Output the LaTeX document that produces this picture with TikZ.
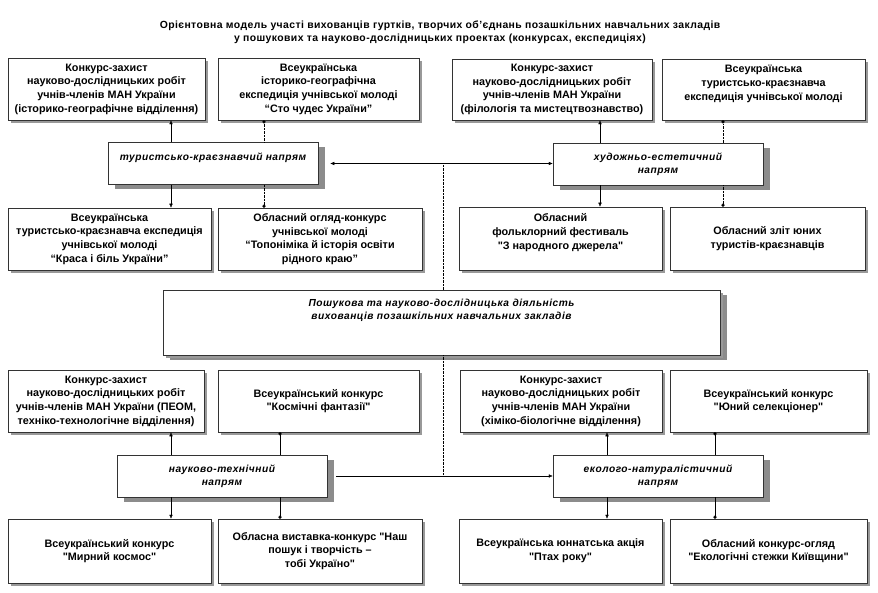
\documentclass[tikz,border=0pt]{standalone}
\usepackage{fontspec}
\setmainfont{Liberation Sans}[Ligatures=TeXOff]
\usetikzlibrary{arrows.meta,shadows}

\begin{document}
\begin{tikzpicture}[
    x=1pt, y=-1pt,
    >={Latex[length=4pt,width=3.6pt]},
    font=\fontsize{10.8}{13.7}\selectfont\bfseries,
    box/.style={draw=black!80, line width=0.5pt, fill=white, align=center, inner sep=1pt,
                minimum height=62pt,
                drop shadow={opacity=1, fill=black!40, shadow xshift=3pt, shadow yshift=-3pt}},
    dirbox/.style={draw=black!80, line width=0.5pt, fill=white, align=center, inner sep=1pt,
                minimum width=210pt, minimum height=42pt,
                font=\fontsize{10.2}{13.2}\selectfont\bfseries\itshape\addfontfeatures{LetterSpace=5},
                drop shadow={opacity=1, fill=black!45, shadow xshift=7pt, shadow yshift=-5pt}},
    mainbox/.style={dirbox, minimum width=557pt, minimum height=65pt,
                drop shadow={opacity=1, fill=black!40, shadow xshift=3pt, shadow yshift=-3pt}},
    dotlink/.style={-{Circle[length=3.2pt]}},
  ]
    \useasboundingbox (0,0) rectangle (878,593);

    % title
    \node[font=\fontsize{10.4}{13}\selectfont\bfseries\addfontfeatures{LetterSpace=4}, align=center]
      (title) at (440,32)
      {Орієнтовна модель участі вихованців гуртків, творчих об’єднань позашкільних навчальних закладів\\
       у пошукових та науково-дослідницьких проектах (конкурсах, експедиціях)};

    % upper half
    \node[box, minimum width=197pt] (kz1) at (106.5,89)
      {Конкурс-захист\\науково-дослідницьких робіт\\учнів-членів МАН України\\(історико-географічне відділення)};
    \node[box, minimum width=201pt] (exp1) at (318.5,89)
      {Всеукраїнська\\історико-географічна\\експедиція учнівської молоді\\“Сто чудес України”};
    \node[box, minimum width=200pt, minimum height=61pt] (kz2) at (552,89.5)
      {Конкурс-захист\\науково-дослідницьких робіт\\учнів-членів МАН України\\(філологія та мистецтвознавство)};
    \node[box, minimum width=203pt, minimum height=61pt] (exp2) at (763.5,89.5)
      {Всеукраїнська\\туристсько-краєзнавча\\експедиція учнівської молоді\\\mbox{}};

    \node[dirbox] (tur) at (213,163.5) {туристсько-краєзнавчий напрям\\\mbox{}};
    \node[dirbox] (hud) at (658,164) {художньо-естетичний\\напрям};

    \node[box, minimum width=203pt] (exp3) at (109.5,239)
      {Всеукраїнська\\туристсько-краєзнавча експедиція\\учнівської молоді\\“Краса і біль України”};
    \node[box, minimum width=204pt] (ogl1) at (320,239)
      {Обласний огляд-конкурс\\учнівської молоді\\“Топоніміка й історія освіти\\рідного краю”};
    \node[box, minimum width=203pt, minimum height=63pt] (fest) at (560.5,238.5)
      {Обласний\\фольклорний фестиваль\\"З народного джерела"\\\mbox{}};
    \node[box, minimum width=195pt, minimum height=63pt] (zlit) at (767.5,238.5)
      {Обласний зліт юних\\туристів-краєзнавців};

    % centre
    \node[mainbox] (poshuk) at (441.5,322.5)
      {Пошукова та науково-дослідницька діяльність\\вихованців позашкільних навчальних закладів\\\mbox{}\\\mbox{}};

    % lower half
    \node[box, minimum width=196pt] (kz3) at (106,401)
      {Конкурс-захист\\науково-дослідницьких робіт\\учнів-членів МАН України (ПЕОМ,\\техніко-технологічне відділення)};
    \node[box, minimum width=201pt] (kosm1) at (318.5,401)
      {Всеукраїнський конкурс\\"Космічні фантазії"};
    \node[box, minimum width=202pt] (kz4) at (561,401)
      {Конкурс-захист\\науково-дослідницьких робіт\\учнів-членів МАН України\\(хіміко-біологічне відділення)};
    \node[box, minimum width=197pt] (selek) at (768.5,401)
      {Всеукраїнський конкурс\\"Юний селекціонер"};

    \node[dirbox] (tech) at (222,476) {науково-технічний\\напрям};
    \node[dirbox] (eko) at (658,476) {еколого-натуралістичний\\напрям};

    \node[box, minimum width=203pt, minimum height=64pt] (kosm2) at (109.5,551)
      {Всеукраїнський конкурс\\"Мирний космос"};
    \node[box, minimum width=204pt, minimum height=64pt] (vyst) at (320,551)
      {Обласна виставка-конкурс "Наш\\пошук і творчість –\\тобі Україно"};
    \node[box, minimum width=203pt, minimum height=64pt] (ptah) at (560.5,551)
      {Всеукраїнська юннатська акція\\"Птах року"};
    \node[box, minimum width=197pt, minimum height=64pt] (stez) at (768.5,551)
      {Обласний конкурс-огляд\\"Екологічні стежки Київщини"};

    % connector columns
    \coordinate (ka) at (171,0);
    \coordinate (kb) at (264,0);
    \coordinate (kc) at (600,0);
    \coordinate (kd) at (723,0);
    \coordinate (ke) at (280,0);
    \coordinate (kf) at (607,0);
    \coordinate (kg) at (715,0);
    \coordinate (vx) at (443,0);

    \draw[->] (tur.north -| ka) -- (kz1.south -| ka);
    \draw[dotlink, densely dotted] (tur.north -| kb) -- (exp1.south -| kb);
    \draw[->] (tur.south -| ka) -- (exp3.north -| ka);
    \draw[dotlink, densely dotted] (tur.south -| kb) -- (ogl1.north -| kb);

    \draw[->] (hud.north -| kc) -- (kz2.south -| kc);
    \draw[dotlink, densely dotted] (hud.north -| kd) -- (exp2.south -| kd);
    \draw[->] (hud.south -| kc) -- (fest.north -| kc);
    \draw[dotlink, densely dotted] (hud.south -| kd) -- (zlit.north -| kd);

    \draw[->] (tech.north -| ka) -- (kz3.south -| ka);
    \draw[dotlink] (tech.north -| ke) -- (kosm1.south -| ke);
    \draw[->] (tech.south -| ka) -- (kosm2.north -| ka);
    \draw[dotlink] (tech.south -| ke) -- (vyst.north -| ke);

    \draw[->] (eko.north -| kf) -- (kz4.south -| kf);
    \draw[dotlink] (eko.north -| kg) -- (selek.south -| kg);
    \draw[->] (eko.south -| kf) -- (ptah.north -| kf);
    \draw[dotlink] (eko.south -| kg) -- (stez.north -| kg);

    % links between the directions
    \draw[<->] ([xshift=12pt]tur.east) -- (tur.east -| hud.west);
    \draw[densely dotted] (vx |- tur.east) -- (poshuk.north -| vx);
    \draw[densely dotted] (poshuk.south -| vx) -- (vx |- tech.east);
    \draw[->] ([xshift=9pt]tech.east) -- (tech.east -| eko.west);
\end{tikzpicture}
\end{document}
